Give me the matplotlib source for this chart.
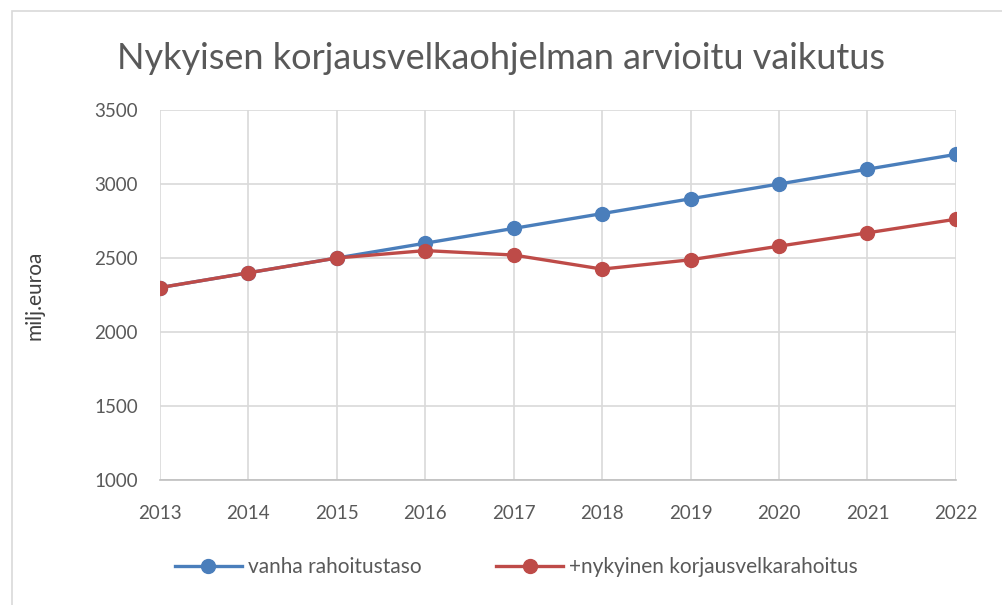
import matplotlib
matplotlib.use("Agg")
import matplotlib.pyplot as plt
from matplotlib.patches import Rectangle

years = [2013, 2014, 2015, 2016, 2017, 2018, 2019, 2020, 2021, 2022]
vanha = [2300, 2400, 2500, 2600, 2700, 2800, 2900, 3000, 3100, 3200]
nykyinen = [2300, 2400, 2500, 2550, 2520, 2425, 2488, 2580, 2670, 2762]
yticks = [1000, 1500, 2000, 2500, 3000, 3500]

plt.rcParams['font.family'] = ['Lato', 'DejaVu Sans']

fig = plt.figure(figsize=(10.03, 6.05), dpi=100)
fig.patches.append(Rectangle((0.012, -0.01), 0.99, 0.992, transform=fig.transFigure,
                             fill=False, edgecolor='#d9d9d9', linewidth=1.2))
ax = fig.add_axes([0.1595, 0.2066, 0.7935, 0.6116])

ax.plot(years, vanha, color='#4a7ebb', lw=2.4, marker='o', ms=10, label='vanha rahoitustaso', zorder=3)
ax.plot(years, nykyinen, color='#be4b48', lw=2.4, marker='o', ms=10, label='+nykyinen korjausvelkarahoitus', zorder=4)

ax.set_xlim(years[0], years[-1])
ax.set_ylim(1000, 3500)
ax.set_xticks(years)
ax.set_yticks(yticks)
ax.grid(True, color='#d9d9d9', lw=1.2)
ax.set_axisbelow(True)
for s in ['top', 'right', 'left']:
    ax.spines[s].set_visible(False)
ax.spines['bottom'].set_color('#bfbfbf')
ax.spines['bottom'].set_linewidth(1.2)
ax.tick_params(axis='both', length=0, labelsize=13.5, colors='#595959')
ax.tick_params(axis='x', pad=18)
ax.tick_params(axis='y', pad=16)
ax.set_ylabel('milj.euroa', fontsize=15, color='#404040', labelpad=36)

fig.suptitle('Nykyisen korjausvelkaohjelman arvioitu vaikutus', fontsize=26, color='#595959', y=0.93)

leg = fig.legend(loc='center', bbox_to_anchor=(0.515, 0.062), ncol=2, frameon=False,
                 fontsize=15, handlelength=3.2, columnspacing=3.6, handletextpad=0.3)
for t in leg.get_texts():
    t.set_color('#595959')

fig.savefig('out.png', dpi=100)
